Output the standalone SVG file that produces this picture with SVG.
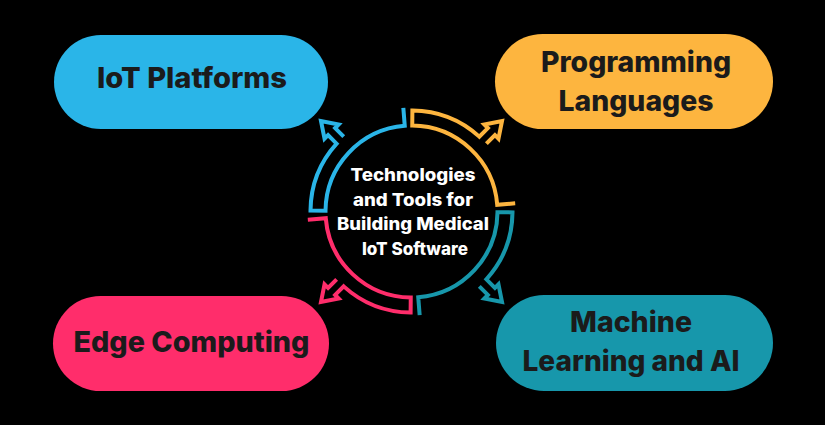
<svg xmlns="http://www.w3.org/2000/svg" width="825" height="425" viewBox="0 0 825 425">
  <style>
    .pill-text { font-family: "Inter", "Liberation Sans", Arial, sans-serif; font-weight: 800; font-size: 28px; fill: #1b1b1b; text-anchor: middle; }
    .center-text { font-family: "Inter", "Liberation Sans", Arial, sans-serif; font-weight: 800; font-size: 17px; fill: #ffffff; text-anchor: middle; }
    .arc { fill: none; stroke-width: 4; stroke-linejoin: miter; stroke-linecap: butt; }
  </style>
  <rect x="0" y="0" width="825" height="425" fill="#000000"/>

  <g id="connectors">
    <path class="arc" stroke="#FDB53F" transform="translate(411.5 211.5) rotate(-2)" d="M 103.90 -4.54 L 85.92 -3.75 A 86 86 0 0 0 3.75 -85.92 L 4.41 -100.90 A 101 101 0 0 1 70.37 -72.46 L 79.24 -80.72 L 75.83 -84.38 L 93.62 -87.30 L 89.47 -69.76 L 86.06 -73.41 L 77.19 -65.14"/>
    <path class="arc" stroke="#1797AB" transform="translate(411.5 211.5) rotate(88)" d="M 103.90 -4.54 L 85.92 -3.75 A 86 86 0 0 0 3.75 -85.92 L 4.41 -100.90 A 101 101 0 0 1 70.37 -72.46 L 79.24 -80.72 L 75.83 -84.38 L 93.62 -87.30 L 89.47 -69.76 L 86.06 -73.41 L 77.19 -65.14"/>
    <path class="arc" stroke="#FF2D6B" transform="translate(411.5 211.5) rotate(178)" d="M 103.90 -4.54 L 85.92 -3.75 A 86 86 0 0 0 3.75 -85.92 L 4.41 -100.90 A 101 101 0 0 1 70.37 -72.46 L 79.24 -80.72 L 75.83 -84.38 L 93.62 -87.30 L 89.47 -69.76 L 86.06 -73.41 L 77.19 -65.14"/>
    <path class="arc" stroke="#2AB5E8" transform="translate(411.5 211.5) rotate(268)" d="M 103.90 -4.54 L 85.92 -3.75 A 86 86 0 0 0 3.75 -85.92 L 4.41 -100.90 A 101 101 0 0 1 70.37 -72.46 L 79.24 -80.72 L 75.83 -84.38 L 93.62 -87.30 L 89.47 -69.76 L 86.06 -73.41 L 77.19 -65.14"/>
  </g>

  <g id="node-center">
    <text class="center-text" x="413" y="181" textLength="125" lengthAdjust="spacingAndGlyphs">Technologies</text>
    <text class="center-text" x="413" y="205.5" textLength="120" lengthAdjust="spacingAndGlyphs">and Tools for</text>
    <text class="center-text" x="413" y="230" textLength="152" lengthAdjust="spacingAndGlyphs">Building Medical</text>
    <text class="center-text" x="415" y="254.5" textLength="106" lengthAdjust="spacingAndGlyphs">IoT Software</text>
  </g>

  <g id="node-iot-platforms">
    <rect x="54" y="35" width="274" height="94" rx="47" ry="47" fill="#2AB5E8"/>
    <text class="pill-text" x="192" y="88" textLength="190" lengthAdjust="spacingAndGlyphs">IoT Platforms</text>
  </g>

  <g id="node-programming-languages">
    <rect x="495" y="34" width="278" height="95" rx="47.5" ry="47.5" fill="#FDB53F"/>
    <text class="pill-text" x="636" y="72" textLength="190" lengthAdjust="spacingAndGlyphs">Programming</text>
    <text class="pill-text" x="636" y="111" textLength="155" lengthAdjust="spacingAndGlyphs">Languages</text>
  </g>

  <g id="node-edge-computing">
    <rect x="53" y="296" width="276" height="95" rx="47.5" ry="47.5" fill="#FF2D6B"/>
    <text class="pill-text" x="191.5" y="352" textLength="236" lengthAdjust="spacingAndGlyphs">Edge Computing</text>
  </g>

  <g id="node-machine-learning">
    <rect x="496" y="295" width="277" height="96" rx="48" ry="48" fill="#1797AB"/>
    <text class="pill-text" x="631" y="332" textLength="122" lengthAdjust="spacingAndGlyphs">Machine</text>
    <text class="pill-text" x="631" y="371" textLength="217" lengthAdjust="spacingAndGlyphs">Learning and AI</text>
  </g>
</svg>
